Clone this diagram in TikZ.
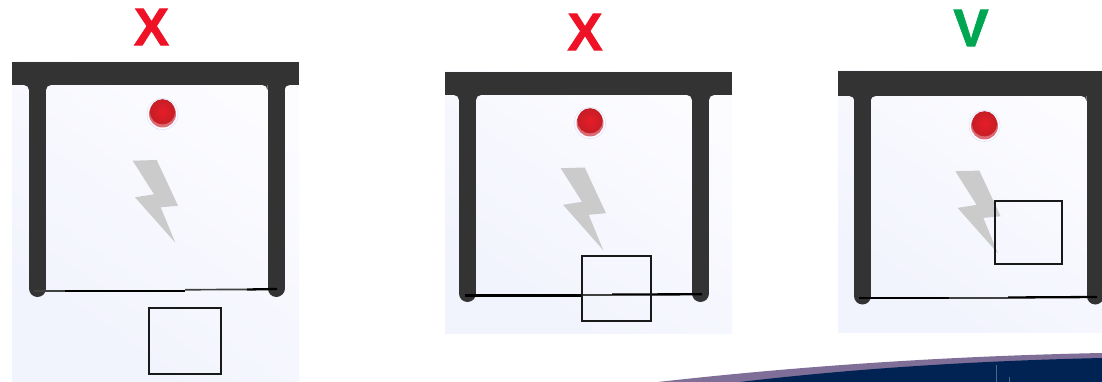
\documentclass[tikz,border=0pt]{standalone}
\usepackage{fontspec}
\setmainfont[BoldFeatures={FakeBold=1.2}]{Liberation Sans}
\definecolor{barc}{HTML}{333333}
\definecolor{redx}{HTML}{EF1126}
\definecolor{greenv}{HTML}{00A651}
\definecolor{bgl}{HTML}{F1F3FD}
\definecolor{bgh}{HTML}{FCFCFF}
\definecolor{boltc}{HTML}{CBCBCB}
\definecolor{navy}{HTML}{012353}
\definecolor{mauve}{HTML}{7F6E98}
\definecolor{lampout}{HTML}{C41E26}
\definecolor{lampin}{HTML}{E81C28}
\definecolor{lamplow}{HTML}{DD6B75}
\tikzset{
  verdict/.style={font=\bfseries\fontsize{53}{53}\selectfont,inner sep=0pt},
  pillar/.style={draw=barc,line width=17pt,line cap=round},
  bar/.style={fill=barc,draw=none},
  panelbg/.style={left color=bgh,right color=bgl,shading angle=-35,draw=none},
  ray/.style={fill=boltc,draw=none},
  ground/.style={draw=black,line width=2.3pt},
  groundthin/.style={draw=black!75,line width=1.7pt},
  probe/.style={draw=black!90,line width=2.3pt}
}
% #1 x, #2 y of ball centre
\newcommand{\lamp}[2]{%
  \begin{scope}[shift={(#1,#2)}]
    \fill[white,draw=blue!12,line width=.6pt] (0,0) circle (15.5);
    \fill[lamplow] (0,0) circle (13.5);
    \shade[inner color=lampin,outer color=lampout] (0,-2.2) circle (12.6);
  \end{scope}}
% bolt, #1 #2 offsets from the first panel
\newcommand{\bolt}[2]{%
  \fill[ray,shift={(#1,#2)}] (132.7,160.7)--(156.7,160)--(178,205.7)--(160.7,207.3)--(175.3,242.7)--(135,197.3)--(154,194.3)--cycle;}
\begin{document}
\begin{tikzpicture}[x=1pt,y=-1pt]
\useasboundingbox (0,0) rectangle (1102,382);
\fill[white] (0,0) rectangle (1102,382);

% --- panel 1
\shade[panelbg] (12,62) rectangle (299,382);
\bolt{0}{0}
\lamp{162.5}{114}
\draw[pillar] (37.5,85) -- (37.5,288.5);
\draw[pillar] (276,85) -- (276,288.5);
\fill[bar] (12,62) rectangle (299,85);
\fill[barc] (24,85) -- (29,85) -- (29,90) arc[start angle=0,end angle=-90,radius=5] -- cycle;
\fill[barc] (51,85) -- (46,85) -- (46,90) arc[start angle=180,end angle=270,radius=5] -- cycle;
\fill[barc] (262,85) -- (267.5,85) -- (267.5,90) arc[start angle=0,end angle=-90,radius=5] -- cycle;
\fill[barc] (289.5,85) -- (284.5,85) -- (284.5,90) arc[start angle=180,end angle=270,radius=5] -- cycle;
\draw[groundthin] (34,291) -- (65,291);
\draw[ground] (65,291) -- (185,291);
\draw[groundthin] (185,289.7) -- (247,289.5);
\draw[ground] (247,289.5) -- (277,289);
\draw[probe] (149,308) rectangle (221,374);
\node[verdict,text=redx] (markA) at (151.5,27) {X};

% --- panel 2
\shade[panelbg] (445,72) rectangle (732,333);
\bolt{428}{7.5}
\lamp{590}{123}
\draw[pillar] (467.5,95) -- (467.5,293.5);
\draw[pillar] (700.5,95) -- (700.5,293.5);
\fill[bar] (445,72) rectangle (732,95);
\fill[barc] (454,95) -- (459,95) -- (459,100) arc[start angle=0,end angle=-90,radius=5] -- cycle;
\fill[barc] (481,95) -- (476,95) -- (476,100) arc[start angle=180,end angle=270,radius=5] -- cycle;
\fill[barc] (687,95) -- (692,95) -- (692,100) arc[start angle=0,end angle=-90,radius=5] -- cycle;
\fill[barc] (714,95) -- (709,95) -- (709,100) arc[start angle=180,end angle=270,radius=5] -- cycle;
\draw[ground] (465,295.5) -- (582,295.5);
\draw[groundthin] (582,295) -- (612,295);
\draw[ground] (612,294.5) -- (702,294.3);
\draw[probe] (582,256) rectangle (651,321);
\node[verdict,text=redx] (markB) at (585,32) {X};

% --- panel 3
\shade[panelbg] (838,71) rectangle (1102,332);
\bolt{822.6}{10.6}
\lamp{984.5}{126}
\draw[pillar] (862.5,96) -- (862.5,296);
\draw[pillar] (1095,96) -- (1095,296);
\fill[bar] (838,71) rectangle (1102,96);
\fill[barc] (849,96) -- (854.5,96) -- (854.5,101) arc[start angle=0,end angle=-90,radius=5] -- cycle;
\fill[barc] (875.5,96) -- (870.5,96) -- (870.5,101) arc[start angle=180,end angle=270,radius=5] -- cycle;
\fill[barc] (1081,96) -- (1086.5,96) -- (1086.5,101) arc[start angle=0,end angle=-90,radius=5] -- cycle;
\draw[ground] (859,298.3) -- (949,298.3);
\draw[groundthin] (949,297.8) -- (1008,297.8);
\draw[ground] (1008,297.5) -- (1097,297);
\draw[probe] (995,201) rectangle (1062,264);
\node[verdict,text=greenv] (markC) at (971,28) {V};

% --- swoosh
\fill[mauve] (658,382) .. controls (800,366) and (950,356) .. (1102,353) -- (1102,382) -- cycle;
\fill[navy] (740,382) .. controls (850,369) and (970,361) .. (1102,358) -- (1102,382) -- cycle;
\draw[navy!70!white,line width=.7pt] (996,365) -- (996,382);
\draw[navy!70!white,line width=.7pt] (1009,377) -- (1009,382);
\end{tikzpicture}
\end{document}
